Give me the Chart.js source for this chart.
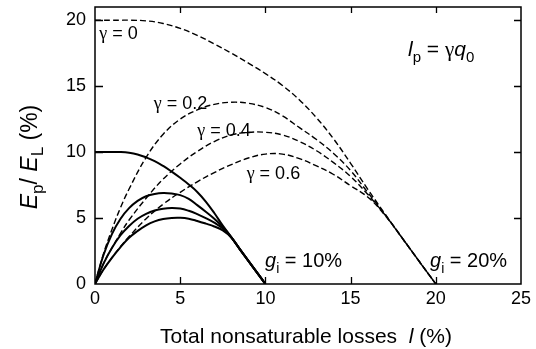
<!DOCTYPE html>
<html>
<head>
<meta charset="utf-8">
<script src="https://cdn.jsdelivr.net/npm/chart.js@4.4.0/dist/chart.umd.min.js"></script>
<style>
  html, body { margin: 0; padding: 0; background: #fff; }
</style>
</head>
<body>
<canvas id="chart" width="536" height="349"></canvas>
<script>
// total nonsaturable losses l (%), curves for gi = 10 % (solid)
const loss10 = [0, 0.5, 1, 1.5, 2, 2.5, 3, 3.5, 4, 4.5, 5, 5.5, 6, 6.5, 7, 7.5, 8, 8.5, 9, 9.5, 10];
const g10Gamma0  = [10, 10, 10, 10, 9.95, 9.82, 9.6, 9.32, 8.95, 8.52, 8.05, 7.55, 6.98, 6.25, 5.38, 4.42, 3.55, 2.65, 1.76, 0.88, 0];
const g10Gamma02 = [0, 2.2, 3.8, 4.95, 5.75, 6.3, 6.65, 6.83, 6.9, 6.86, 6.74, 6.45, 5.98, 5.48, 4.95, 4.32, 3.54, 2.64, 1.76, 0.88, 0];
const g10Gamma04 = [0, 1.55, 2.75, 3.7, 4.4, 4.95, 5.32, 5.57, 5.71, 5.76, 5.72, 5.55, 5.3, 5.0, 4.65, 4.2, 3.53, 2.63, 1.76, 0.88, 0];
const g10Gamma06 = [0, 1.1, 2.0, 2.8, 3.5, 4.02, 4.45, 4.75, 4.93, 5.01, 5.02, 4.95, 4.78, 4.58, 4.36, 4.06, 3.52, 2.63, 1.76, 0.88, 0];

// curves for gi = 20 % (dashed)
const loss20 = [0, 0.5, 1, 1.5, 2, 3, 4, 5, 6, 7, 8, 9, 10, 11, 12, 13, 14, 15, 16, 17, 18, 19, 20];
const g20Gamma0  = [20, 20, 20, 20, 20, 19.95, 19.75, 19.38, 18.85, 18.2, 17.5, 16.75, 15.95, 15.05, 13.95, 12.6, 11.0, 9.15, 7.2, 5.35, 3.55, 1.76, 0];
const g20Gamma02 = [0, 2.3, 4.15, 5.8, 7.2, 9.6, 11.35, 12.5, 13.2, 13.62, 13.78, 13.7, 13.38, 12.75, 11.85, 10.95, 9.9, 8.6, 6.95, 5.3, 3.54, 1.76, 0];
const g20Gamma04 = [0, 1.55, 2.75, 3.85, 4.85, 6.5, 7.95, 9.1, 10.05, 10.8, 11.3, 11.5, 11.5, 11.3, 10.8, 10.1, 9.2, 8.15, 6.8, 5.27, 3.53, 1.76, 0];
const g20Gamma06 = [0, 1.1, 2.0, 2.85, 3.6, 4.95, 6.05, 6.95, 7.75, 8.45, 9.05, 9.55, 9.85, 9.85, 9.5, 8.95, 8.3, 7.45, 6.6, 5.24, 3.52, 1.76, 0];

const xTicks = [0, 5, 10, 15, 20, 25];
const yTicks = [0, 5, 10, 15, 20];

const SANS = '"Liberation Sans", Arial, sans-serif';
const SERIF = '"Liberation Serif", "Times New Roman", serif';

const pts = (xs, ys) => xs.map((v, i) => ({ x: v, y: ys[i] }));

const solid = (ys) => ({
    data: pts(loss10, ys),
    borderColor: '#000',
    borderWidth: 2,
    pointRadius: 0,
    fill: false,
    tension: 0.4
});

const dashed = (ys) => ({
    data: pts(loss20, ys),
    borderColor: '#000',
    borderWidth: 1.4,
    borderDash: [6, 3],
    pointRadius: 0,
    fill: false,
    tension: 0.4
});

// rich text: parts are {t, it, sub, serif}
function partFont(p, size) {
    const s = p.sub ? Math.round(size * 0.72) : size;
    return (p.it ? 'italic ' : '') + s + 'px ' + (p.serif ? SERIF : SANS);
}
function richWidth(ctx, parts, size) {
    let w = 0;
    parts.forEach(p => { ctx.font = partFont(p, size); w += ctx.measureText(p.t).width; });
    return w;
}
function drawRich(ctx, parts, x, y, size) {
    let cx = x;
    parts.forEach(p => {
        ctx.font = partFont(p, size);
        ctx.fillText(p.t, cx, y + (p.sub ? size * 0.28 : 0));
        cx += ctx.measureText(p.t).width;
    });
}

const labels = [
    { x: 0.25, y: 18.55, size: 18, parts: [{ t: 'γ', serif: true }, { t: ' = 0' }] },
    { x: 3.45, y: 13.3, size: 18, parts: [{ t: 'γ', serif: true }, { t: ' = 0.2' }] },
    { x: 6.0, y: 11.25, size: 18, parts: [{ t: 'γ', serif: true }, { t: ' = 0.4' }] },
    { x: 8.9, y: 7.95, size: 18, parts: [{ t: 'γ', serif: true }, { t: ' = 0.6' }] },
    { x: 18.37, y: 17.3, size: 21, parts: [{ t: 'l', it: true }, { t: 'p', sub: true }, { t: ' = ' }, { t: 'γ', serif: true }, { t: 'q', it: true }, { t: '0', sub: true }] },
    { x: 9.98, y: 1.28, size: 20, parts: [{ t: 'g', it: true }, { t: 'i', sub: true }, { t: ' = 10%' }] },
    { x: 19.66, y: 1.28, size: 20, parts: [{ t: 'g', it: true }, { t: 'i', sub: true }, { t: ' = 20%' }] }
];

const framePlugin = {
    id: 'framePlugin',
    afterDraw(chart) {
        const { ctx, chartArea: a, scales: { x, y } } = chart;
        ctx.save();
        ctx.strokeStyle = '#000';
        ctx.lineWidth = 1.5;
        ctx.strokeRect(a.left, a.top, a.right - a.left, a.bottom - a.top);

        // inward tick marks on all four sides
        ctx.lineWidth = 1.3;
        ctx.beginPath();
        xTicks.slice(1, -1).forEach(v => {
            const px = Math.round(x.getPixelForValue(v)) + 0.5;
            ctx.moveTo(px, a.bottom); ctx.lineTo(px, a.bottom - 7);
            ctx.moveTo(px, a.top); ctx.lineTo(px, a.top + 6);
        });
        yTicks.slice(1).forEach(v => {
            const py = Math.round(y.getPixelForValue(v)) + 0.5;
            ctx.moveTo(a.left, py); ctx.lineTo(a.left + 8, py);
            ctx.moveTo(a.right, py); ctx.lineTo(a.right - 7, py);
        });
        ctx.stroke();

        // curve labels
        ctx.fillStyle = '#000';
        ctx.textAlign = 'left';
        ctx.textBaseline = 'alphabetic';
        labels.forEach(l => drawRich(ctx, l.parts, x.getPixelForValue(l.x), y.getPixelForValue(l.y), l.size));

        // x axis title
        const xt = [{ t: 'Total nonsaturable losses  ' }, { t: 'l', it: true }, { t: ' (%)' }];
        const xw = richWidth(ctx, xt, 21);
        drawRich(ctx, xt, (a.left + a.right) / 2 - 2 - xw / 2, 343, 21);

        // y axis title
        const yt = [{ t: 'E', it: true }, { t: 'p', sub: true }, { t: '/ ' }, { t: 'E', it: true }, { t: 'L', sub: true }, { t: ' (%)' }];
        const yw = richWidth(ctx, yt, 23);
        ctx.translate(37, 157);
        ctx.rotate(-Math.PI / 2);
        drawRich(ctx, yt, -yw / 2, 0, 23);
        ctx.restore();
    }
};

new Chart(document.getElementById('chart'), {
    type: 'line',
    data: {
        datasets: [
            solid(g10Gamma0), solid(g10Gamma02), solid(g10Gamma04), solid(g10Gamma06),
            dashed(g20Gamma0), dashed(g20Gamma02), dashed(g20Gamma04), dashed(g20Gamma06)
        ]
    },
    options: {
        responsive: false,
        animation: false,
        events: [],
        layout: { padding: { left: 0, right: 15, top: 7, bottom: 0 } },
        plugins: { legend: { display: false }, tooltip: { enabled: false } },
        scales: {
            x: {
                type: 'linear',
                min: 0,
                max: 25,
                grid: { display: false, drawTicks: false },
                border: { display: false },
                ticks: { color: '#000', font: { family: SANS, size: 18 }, padding: 4, maxRotation: 0 },
                afterBuildTicks: s => { s.ticks = xTicks.map(v => ({ value: v })); },
                afterFit: s => { s.height = 65; s.paddingLeft = 0; s.paddingRight = 0; }
            },
            y: {
                type: 'linear',
                min: 0,
                max: 21,
                grid: { display: false, drawTicks: false },
                border: { display: false },
                ticks: { color: '#000', font: { family: SANS, size: 18 }, padding: 9 },
                afterBuildTicks: s => { s.ticks = yTicks.map(v => ({ value: v })); },
                afterFit: s => { s.width = 95; s.paddingTop = 0; s.paddingBottom = 0; }
            }
        }
    },
    plugins: [framePlugin]
});
</script>
</body>
</html>
